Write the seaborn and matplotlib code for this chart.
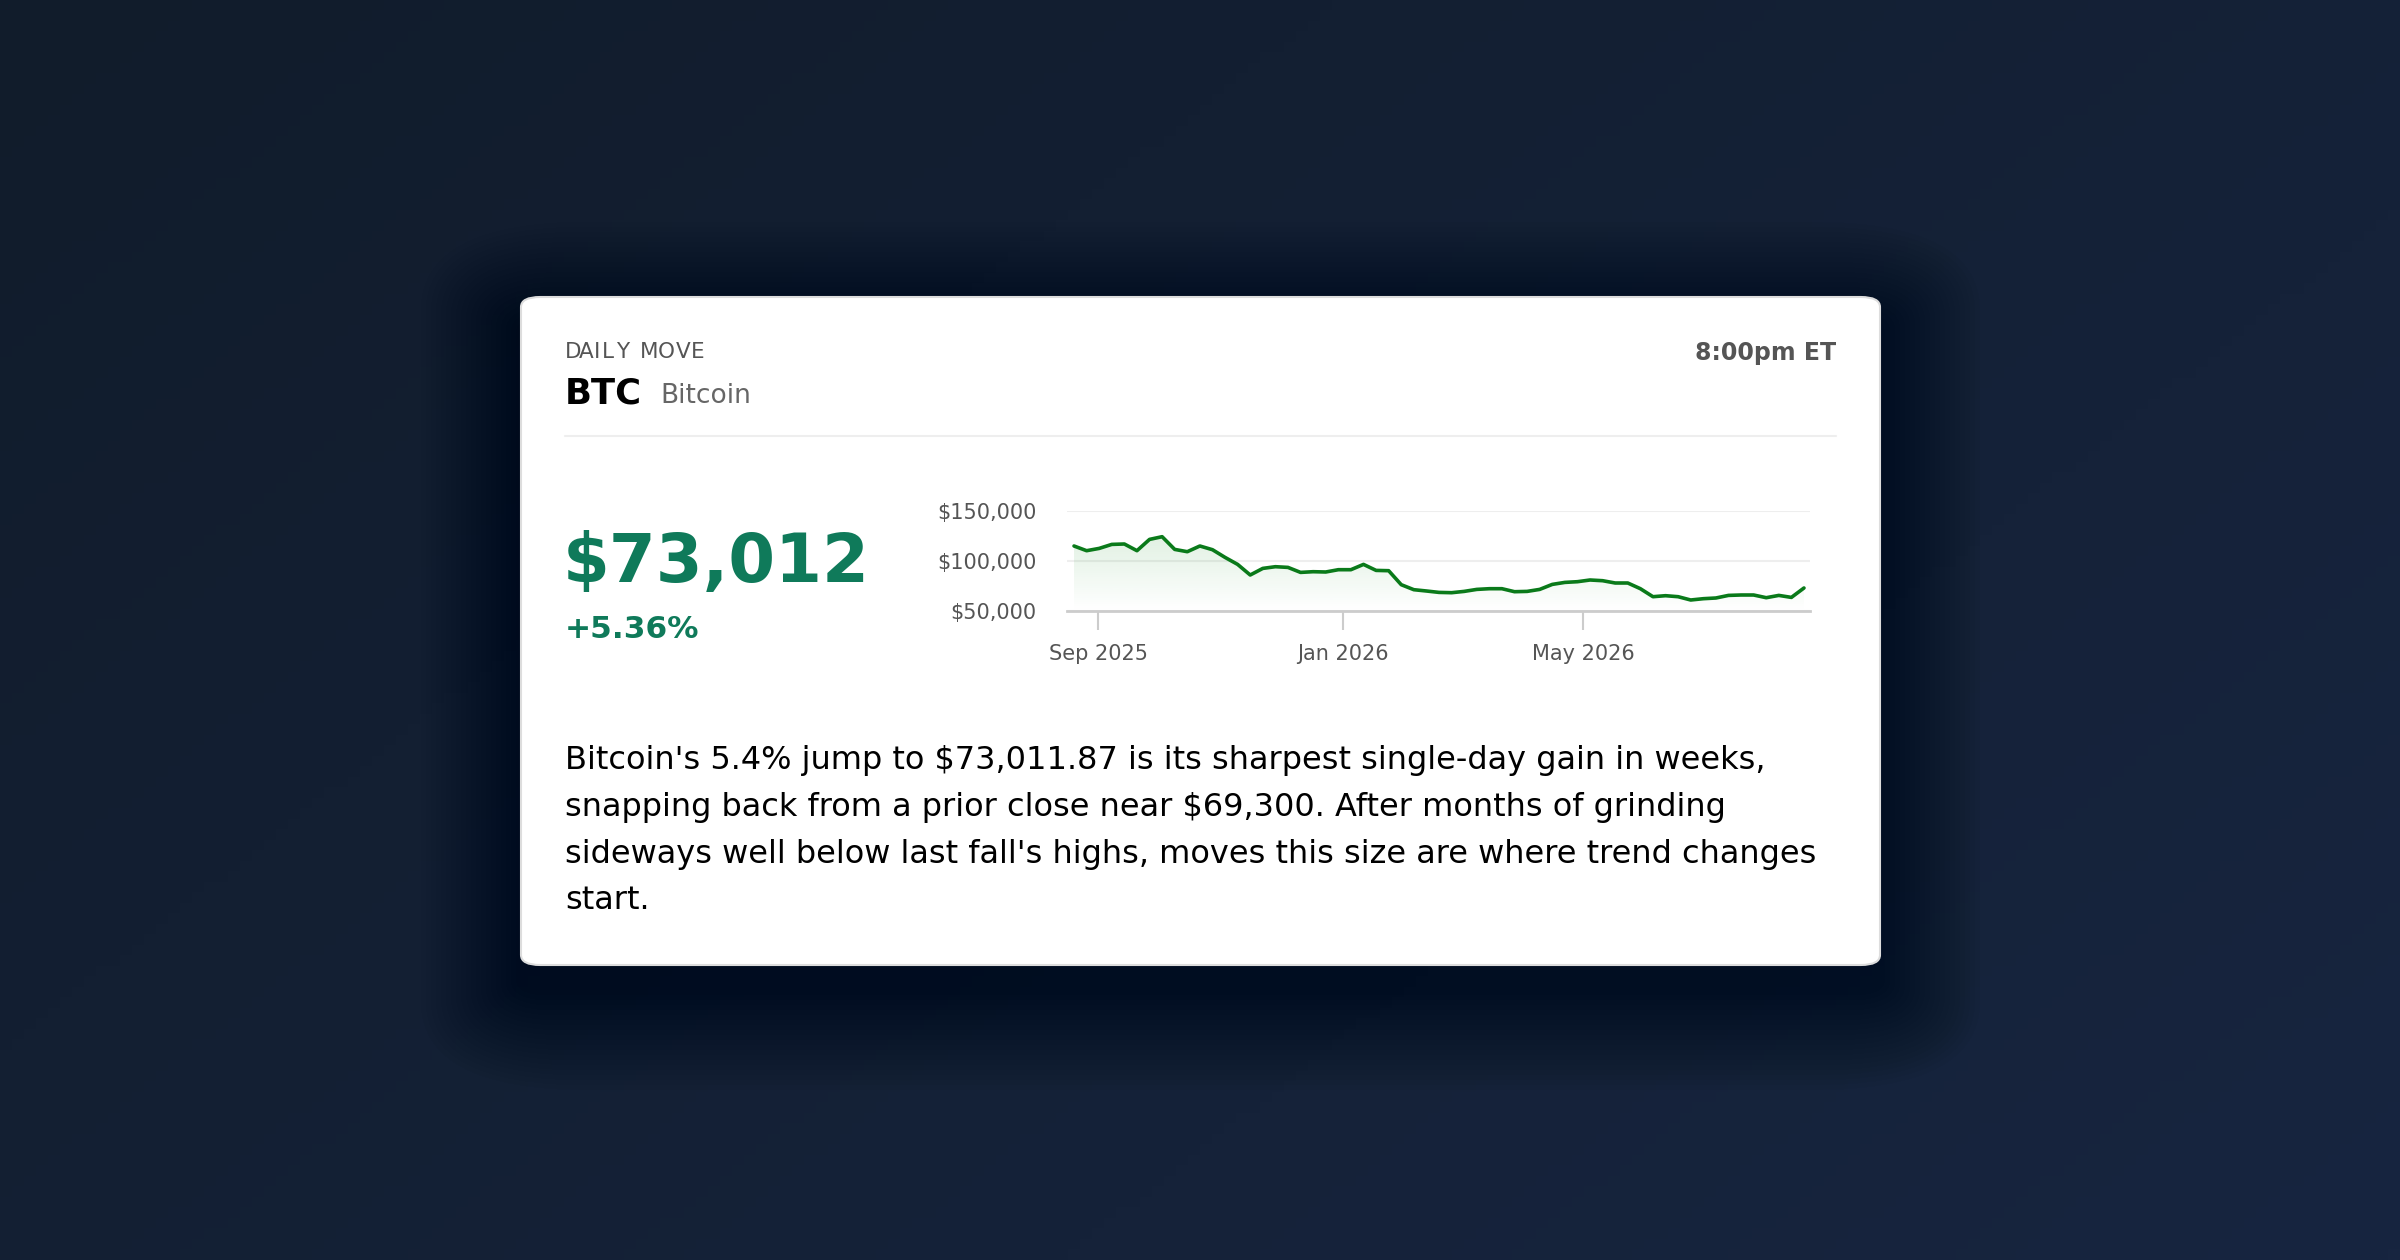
"""
Daily move card: BTC price sparkline with summary text.
"""

import numpy as np
import pandas as pd
import seaborn as sns
import matplotlib.pyplot as plt
import matplotlib.dates as mdates
from matplotlib.patches import FancyBboxPatch
from matplotlib.ticker import FuncFormatter

# ============================================================
# DATA
# ============================================================

prices = [
    115000, 110300, 112600, 116600, 117000, 110300, 121600, 124300, 111600, 109300,
    115000, 111300, 103600, 96600, 86000, 92600, 94300, 93600, 88600, 89300,
    89000, 91300, 91300, 96600, 90600, 90300, 76300, 71300, 70000, 68600,
    68300, 69600, 71600, 72300, 72300, 69300, 69600, 71600, 76600, 78600,
    79300, 81000, 80300, 78000, 78000, 72300, 64300, 65300, 64300, 61000,
    62300, 63000, 65600, 66000, 66000, 63300, 65600, 63600, 73012,
]
dates = pd.date_range("2025-08-20", "2026-08-19", periods=len(prices))
y_ticks = [50000, 100000, 150000]
x_ticks = ["2025-09-01", "2026-01-01", "2026-05-01"]

last_price = "$73,012"
pct_change = "+5.36%"
summary_lines = [
    "Bitcoin's 5.4% jump to $73,011.87 is its sharpest single-day gain in weeks,",
    "snapping back from a prior close near $69,300. After months of grinding",
    "sideways well below last fall's highs, moves this size are where trend changes",
    "start.",
]

df = pd.DataFrame({"date": dates, "price": prices})

# ============================================================
# FIGURE + BACKGROUND
# ============================================================

sns.set_theme(style="white")
plt.rcParams["font.family"] = ["DejaVu Sans"]

W, H = 2400, 1260
fig = plt.figure(figsize=(24, 12.6), dpi=100)

bg = fig.add_axes([0, 0, 1, 1])
gx = np.linspace(0, 1, 200)
gy = np.linspace(0, 1, 120)
t = (gx[None, :] * 0.6 + gy[:, None] * 0.4)
c0 = np.array([0x11, 0x1c, 0x2b]) / 255
c1 = np.array([0x17, 0x25, 0x40]) / 255
grad = c0[None, None, :] * (1 - t[..., None]) + c1[None, None, :] * t[..., None]
bg.imshow(grad, extent=[0, 1, 0, 1], aspect="auto", origin="upper")
bg.set_xlim(0, 1)
bg.set_ylim(0, 1)
bg.axis("off")


def fx(px):
    return px / W


def fy(py):
    return 1 - py / H


# card shadow + card
cx0, cx1, cy0, cy1 = 521, 1880, 297, 965
for i in range(20, 0, -1):
    pad = i * 5
    bg.add_patch(FancyBboxPatch(
        (fx(cx0 - pad), fy(cy1 + pad + 25)), fx(cx1 - cx0 + 2 * pad), (cy1 - cy0 + 2 * pad) / H,
        boxstyle=f"round,pad=0,rounding_size={0.01 + i * 0.003}", transform=bg.transAxes,
        facecolor="black", edgecolor="none", alpha=0.018, zorder=1))
bg.add_patch(FancyBboxPatch(
    (fx(cx0), fy(cy1)), fx(cx1 - cx0), (cy1 - cy0) / H,
    boxstyle="round,pad=0,rounding_size=0.008", transform=bg.transAxes,
    facecolor="white", edgecolor="#dddddd", linewidth=1.5, zorder=2))

# ============================================================
# HEADER TEXT
# ============================================================

# letter-spaced kicker
kicker = "DAILY MOVE"
kx = 565
for ch in kicker:
    tt = bg.text(fx(kx), fy(352), ch, fontsize=15.5, color="#555555",
                 va="center", ha="left", zorder=3)
    kx += 14.3 if ch != " " else 9
    if ch in "MOW":
        kx += 4
    if ch in "I":
        kx -= 6
bg.text(fx(565), fy(393), "BTC", fontsize=25.5, fontweight="bold", color="black",
        va="center", ha="left", zorder=3)
bg.text(fx(660), fy(396), "Bitcoin", fontsize=19, color="#666666",
        va="center", ha="left", zorder=3)
bg.text(fx(1836), fy(353), "8:00pm ET", fontsize=17, fontweight="bold",
        color="#555555", va="center", ha="right", zorder=3)
bg.plot([fx(565), fx(1836)], [fy(436), fy(436)], color="#eeeeee", lw=1.5, zorder=3)

green = "#0f7a5a"
bg.text(fx(563), fy(563), last_price, fontsize=48.5, fontweight="bold", color=green,
        va="center", ha="left", zorder=3)
bg.text(fx(565), fy(629), pct_change, fontsize=22.5, fontweight="bold", color=green,
        va="center", ha="left", zorder=3)

for i, line in enumerate(summary_lines):
    bg.text(fx(565), fy(761 + i * 46.5), line, fontsize=23, color="black",
            va="center", ha="left", zorder=3)

# ============================================================
# SPARKLINE
# ============================================================

ax = fig.add_axes([fx(1067), fy(611), fx(1810 - 1067), 100 / H])
ax.set_zorder(5)
ax.patch.set_alpha(0)

line_color = "#0a7a1a"
sns.lineplot(data=df, x="date", y="price", ax=ax, color=line_color, linewidth=2.6)

xmin = mdates.date2num(pd.Timestamp("2025-08-16 12:00"))
xmax = mdates.date2num(pd.Timestamp("2026-08-22"))
ax.set_xlim(xmin, xmax)
ax.set_ylim(50000, 150000)

# gradient fill under the line
fill = np.linspace(0.0, 1.0, 100)[:, None]
rgba = np.dstack([np.full((100, 1), 0.16), np.full((100, 1), 0.6),
                  np.full((100, 1), 0.2), 0.14 * (1 - fill)])
img = ax.imshow(rgba,
                extent=[mdates.date2num(dates[0]), mdates.date2num(dates[-1]), 50000, 125000],
                aspect="auto", origin="upper", zorder=1)
poly = ax.fill_between(dates, prices, 50000, color="none")
img.set_clip_path(poly.get_paths()[0], transform=ax.transData)

ax.set_yticks(y_ticks)
ax.yaxis.set_major_formatter(FuncFormatter(lambda v, p: f"${v:,.0f}"))
ax.set_xticks([mdates.date2num(pd.Timestamp(d)) for d in x_ticks])
ax.xaxis.set_major_formatter(mdates.DateFormatter("%b %Y"))
ax.grid(axis="y", color="#eeeeee", linewidth=1.5)
ax.grid(axis="x", visible=False)
for s in ["top", "right", "left"]:
    ax.spines[s].set_visible(False)
ax.spines["bottom"].set_color("#cccccc")
ax.spines["bottom"].set_linewidth(2)
ax.tick_params(axis="y", length=0, labelsize=15, labelcolor="#555555", pad=22)
ax.tick_params(axis="x", length=14, width=1.5, color="#cccccc", labelsize=15,
               labelcolor="#555555", pad=10, bottom=True)
ax.set_xlabel("")
ax.set_ylabel("")

fig.savefig("out.png", dpi=100)
plt.close(fig)
